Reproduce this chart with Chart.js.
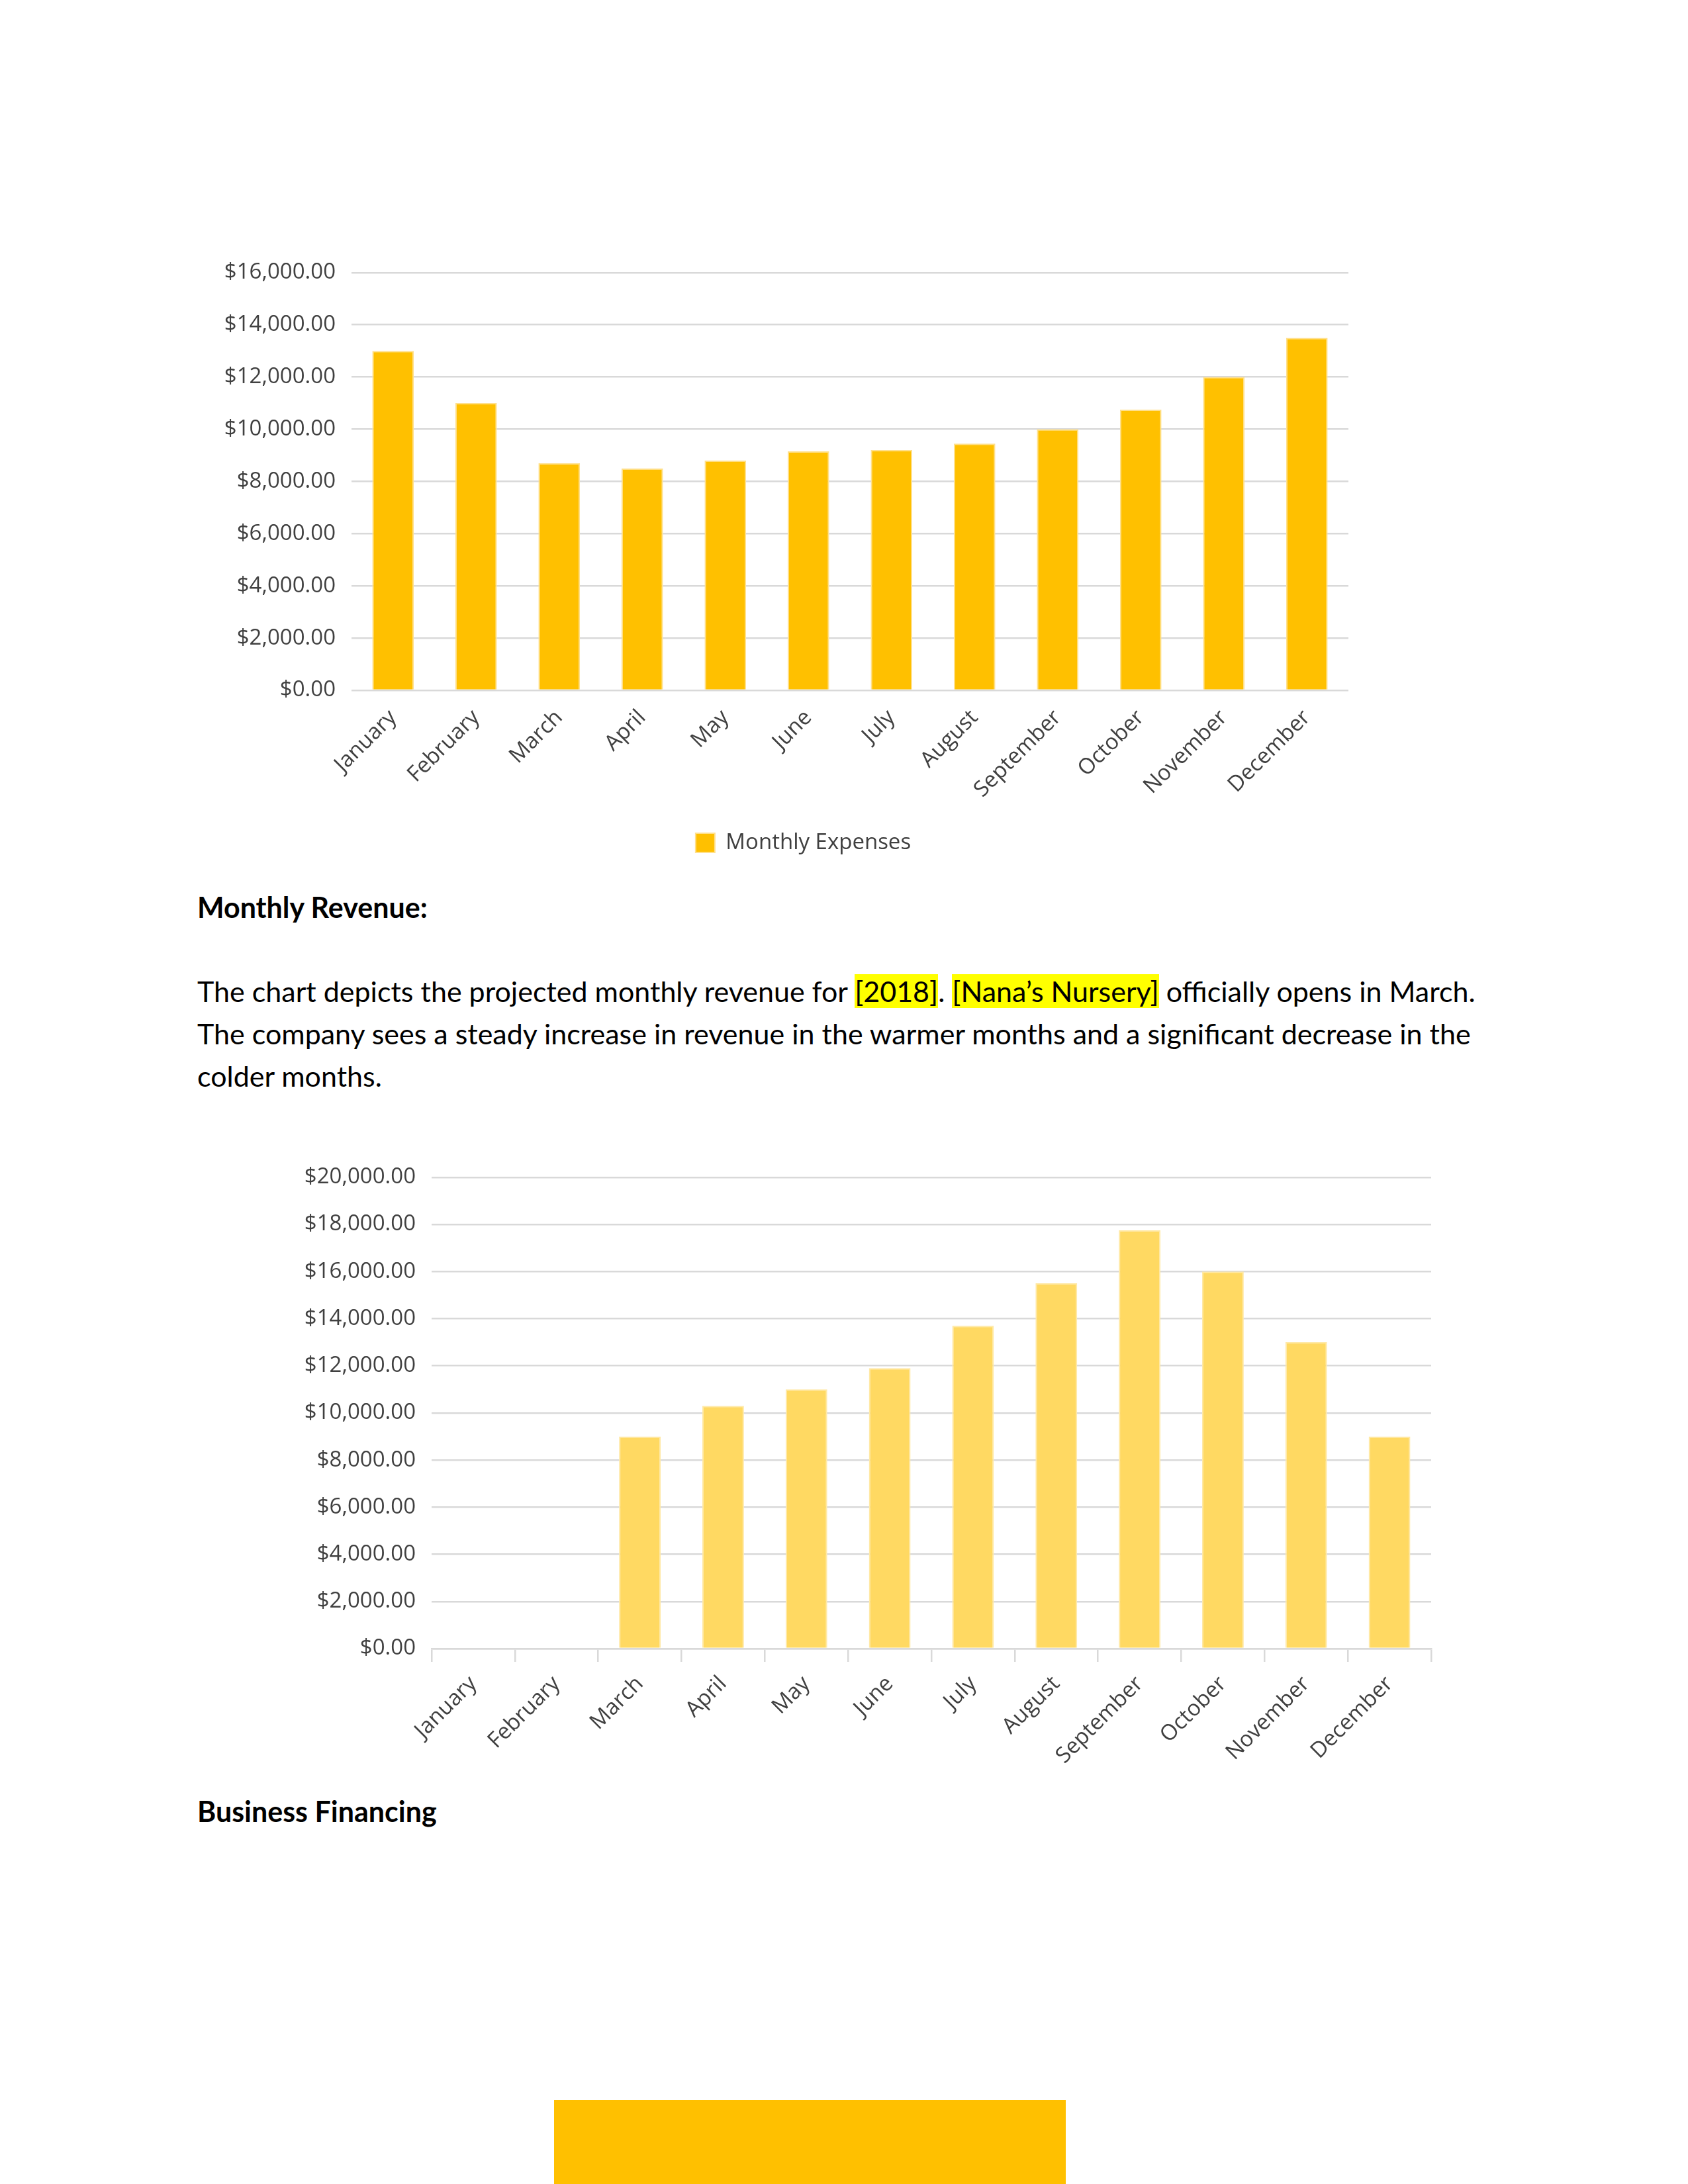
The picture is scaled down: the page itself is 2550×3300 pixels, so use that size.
<!DOCTYPE html>
<html>
<head>
<meta charset="utf-8">
<script src="https://cdn.jsdelivr.net/npm/chart.js@4.4.0/dist/chart.umd.min.js"></script>
<style>
    html, body { margin: 0; padding: 0; background: #fff; }
    body { width: 2550px; height: 3300px; position: relative; overflow: hidden; font-family: 'Lato', 'Open Sans', sans-serif; color: #000; }
    .box { position: absolute; }
    .heading { position: absolute; left: 298px; font-weight: bold; font-size: 43px; line-height: 64px; white-space: nowrap; }
    .para { position: absolute; left: 298px; font-size: 43px; line-height: 64px; white-space: nowrap; }
    .hl { background: #FFFF00; }
    .footer-bar { position: absolute; left: 837px; top: 3173px; width: 773px; height: 127px; background: #FFC000; }
</style>
</head>
<body>

<div class="box" id="expenses-box" style="left:300px; top:368px; width:1757px; height:932px;">
    <canvas id="expensesChart"></canvas>
</div>

<div class="heading" style="top:1339px;">Monthly Revenue:</div>
<div class="para" style="top:1466px;">
    The chart depicts the projected monthly revenue for <span class="hl">[2018]</span>. <span class="hl">[Nana’s Nursery]</span> officially opens in March.<br>
    The company sees a steady increase in revenue in the warmer months and a significant decrease in the<br>
    colder months.
</div>

<div class="box" id="revenue-box" style="left:400px; top:1735px; width:1782px; height:966px;">
    <canvas id="revenueChart"></canvas>
</div>

<div class="heading" style="top:2705px;">Business Financing</div>

<div class="footer-bar"></div>

<script>
// Data
const months = ['January', 'February', 'March', 'April', 'May', 'June', 'July', 'August', 'September', 'October', 'November', 'December'];
const expenseValues = [13000, 11000, 8700, 8500, 8800, 9150, 9200, 9450, 10000, 10750, 12000, 13500];
const revenueValues = [null, null, 9000, 10300, 11000, 11900, 13700, 15500, 17750, 16000, 13000, 9000];
const expenseAxis = { max: 16000, step: 2000 };
const revenueAxis = { max: 20000, step: 2000 };

const LABEL_COLOR = '#404040';
const GRID_COLOR = '#D9D9D9';
const TICK_FONT = { family: 'Open Sans', size: 33 };

// Excel centres the legend under the plot, not the whole canvas
const legendShift = {
    id: 'legendShift',
    afterLayout(chart) {
        if (chart.legend) { chart.legend.left += 45; chart.legend.right += 45; }
    }
};

function money(v) {
    return '$' + Number(v).toLocaleString('en-US', { minimumFractionDigits: 2, maximumFractionDigits: 2 });
}

function yScale(axis, width) {
    return {
        min: 0, max: axis.max,
        ticks: { stepSize: axis.step, color: LABEL_COLOR, font: TICK_FONT, padding: 24, callback: money },
        grid: { color: GRID_COLOR, lineWidth: 2.5, drawTicks: false },
        border: { display: false },
        afterFit: s => { s.width = width; }
    };
}

function initExpenses() {
    const ctx = document.getElementById('expensesChart').getContext('2d');
    new Chart(ctx, {
        type: 'bar',
        data: { labels: months, datasets: [{ label: 'Monthly Expenses', data: expenseValues, backgroundColor: '#FFC000', borderColor: '#FFE08C', borderWidth: 2, borderSkipped: 'bottom', barPercentage: 0.5, categoryPercentage: 1 }] },
        options: {
            responsive: true, maintainAspectRatio: false, animation: false,
            layout: { padding: { top: 40, right: 20, left: 0, bottom: 0 } },
            plugins: {
                legend: { position: 'bottom', labels: { color: LABEL_COLOR, font: TICK_FONT, boxWidth: 29, boxHeight: 29, padding: 14 } },
                tooltip: { enabled: false }
            },
            scales: {
                x: {
                    ticks: { color: LABEL_COLOR, font: TICK_FONT, minRotation: 45, maxRotation: 45, padding: 22 },
                    grid: { display: false, drawTicks: false },
                    border: { display: false },
                    afterFit: s => { s.height = 200; }
                },
                y: yScale(expenseAxis, 231)
            }
        },
        plugins: [legendShift]
    });
}

function initRevenue() {
    const ctx = document.getElementById('revenueChart').getContext('2d');
    new Chart(ctx, {
        type: 'bar',
        data: { labels: months, datasets: [{ label: 'Monthly Revenue', data: revenueValues, backgroundColor: '#FFD962', borderColor: '#FFE9A6', borderWidth: 2, borderSkipped: 'bottom', barPercentage: 0.5, categoryPercentage: 1 }] },
        options: {
            responsive: true, maintainAspectRatio: false, animation: false,
            layout: { padding: { top: 40, right: 20, left: 0, bottom: 0 } },
            plugins: { legend: { display: false }, tooltip: { enabled: false } },
            scales: {
                x: {
                    ticks: { color: LABEL_COLOR, font: TICK_FONT, minRotation: 45, maxRotation: 45, padding: 14 },
                    grid: { display: true, drawOnChartArea: false, drawTicks: true, tickLength: 20, color: GRID_COLOR, lineWidth: 2.5, offset: true },
                    border: { display: true, color: GRID_COLOR, width: 2.5 },
                    afterFit: s => { s.height = 210; }
                },
                y: yScale(revenueAxis, 252)
            }
        }
    });
}

window.onload = () => {
    initExpenses();
    initRevenue();
};
</script>
</body>
</html>
